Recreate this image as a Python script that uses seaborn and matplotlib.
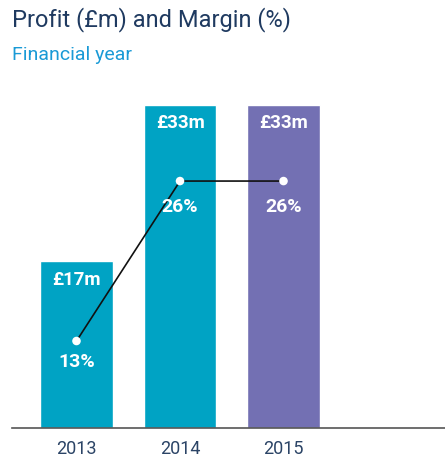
import matplotlib
matplotlib.use("Agg")
import matplotlib.pyplot as plt
import seaborn as sns
import pandas as pd

years = ["2013", "2014", "2015"]
profit = [17, 33, 33]
margin = [13, 26, 26]
profit_labels = ["£17m", "£33m", "£33m"]
margin_labels = ["13%", "26%", "26%"]
bar_colors = ["#00a3c4", "#00a3c4", "#7370b3"]

sns.set_theme(style="white")
plt.rcParams["font.family"] = ["Roboto", "DejaVu Sans"]

fig = plt.figure(figsize=(4.45, 4.59), dpi=100)
ax = fig.add_axes([12/445, 1-428/459, 1-12/445, (428-90)/459])

df = pd.DataFrame({"year": years, "profit": profit})
sns.barplot(data=df, x="year", y="profit", hue="year", palette=bar_colors,
            width=0.705, legend=False, ax=ax, saturation=1)
ax.set_xlim(-0.623, 3.56)
ax.set_ylim(0, 34.5)
ax.set_xlabel("")
ax.set_ylabel("")
ax.set_yticks([])
for s in ["left", "right", "top"]:
    ax.spines[s].set_visible(False)
ax.spines["bottom"].set_color("#555555")
ax.spines["bottom"].set_linewidth(1.2)
ax.tick_params(axis="x", length=0, pad=9, labelsize=13, labelcolor="#2b4466")

for i, (v, lab) in enumerate(zip(profit, profit_labels)):
    ax.annotate(lab, (i, v), xytext=(0, -13), textcoords="offset points",
                ha="center", va="center", color="white", fontsize=13.5,
                fontweight="bold")

ax2 = ax.twinx()
ax2.set_ylim(5.93, 33.4)
ax2.plot(range(len(margin)), margin, color="#111111", lw=1.2, zorder=3)
ax2.scatter(range(len(margin)), margin, s=38, color="white", zorder=4,
            edgecolors="none")
for i, (v, lab) in enumerate(zip(margin, margin_labels)):
    off = -15 if i == 0 else -19
    ax2.annotate(lab, (i, v), xytext=(0, off), textcoords="offset points",
                 ha="center", va="center", color="white", fontsize=14,
                 fontweight="bold")
ax2.set_yticks([])
for s in ["left", "right", "top", "bottom"]:
    ax2.spines[s].set_visible(False)

fig.text(12/445, 1-20/459, "Profit (£m) and Margin (%)", fontsize=17,
         color="#1f3a60", va="center", ha="left")
fig.text(12/445, 1-55/459, "Financial year", fontsize=14,
         color="#1a9ad6", va="center", ha="left")

fig.savefig("out.png", dpi=100)
